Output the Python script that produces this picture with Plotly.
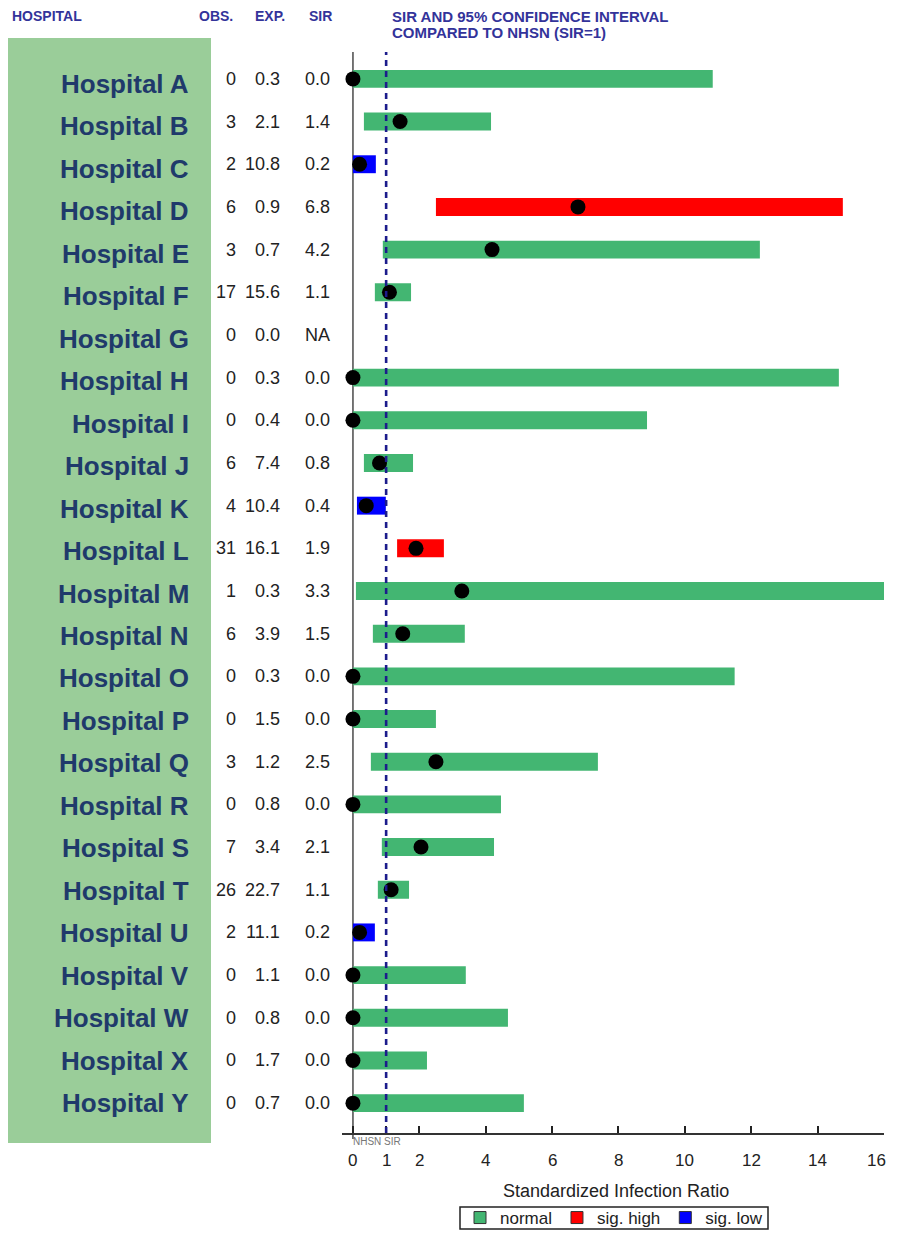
import plotly.graph_objects as go

# ---------------- data ----------------
hospitals = ["Hospital A", "Hospital B", "Hospital C", "Hospital D", "Hospital E",
             "Hospital F", "Hospital G", "Hospital H", "Hospital I", "Hospital J",
             "Hospital K", "Hospital L", "Hospital M", "Hospital N", "Hospital O",
             "Hospital P", "Hospital Q", "Hospital R", "Hospital S", "Hospital T",
             "Hospital U", "Hospital V", "Hospital W", "Hospital X", "Hospital Y"]
obs = ["0", "3", "2", "6", "3", "17", "0", "0", "0", "6", "4", "31", "1", "6", "0",
       "0", "3", "0", "7", "26", "2", "0", "0", "0", "0"]
exp_ = ["0.3", "2.1", "10.8", "0.9", "0.7", "15.6", "0.0", "0.3", "0.4", "7.4", "10.4",
        "16.1", "0.3", "3.9", "0.3", "1.5", "1.2", "0.8", "3.4", "22.7", "11.1", "1.1",
        "0.8", "1.7", "0.7"]
sir_text = ["0.0", "1.4", "0.2", "6.8", "4.2", "1.1", "NA", "0.0", "0.0", "0.8", "0.4",
            "1.9", "3.3", "1.5", "0.0", "0.0", "2.5", "0.0", "2.1", "1.1", "0.2", "0.0",
            "0.0", "0.0", "0.0"]
sir = [0.0, 1.42, 0.2, 6.78, 4.19, 1.1, None, 0.0, 0.0, 0.8, 0.4, 1.9, 3.28, 1.5, 0.0,
       0.0, 2.5, 0.0, 2.05, 1.15, 0.2, 0.0, 0.0, 0.0, 0.0]
ci_low = [0.0, 0.33, 0.0, 2.5, 0.9, 0.66, None, 0.0, 0.0, 0.33, 0.12, 1.33, 0.09, 0.6,
          0.0, 0.0, 0.54, 0.0, 0.87, 0.75, 0.0, 0.0, 0.0, 0.0, 0.0]
ci_high = [10.84, 4.16, 0.69, 14.76, 12.26, 1.75, None, 14.64, 8.86, 1.81, 0.99, 2.74,
           16.05, 3.37, 11.5, 2.5, 7.38, 4.46, 4.25, 1.69, 0.66, 3.4, 4.67, 2.23, 5.15]
status = ["normal", "normal", "sig. low", "sig. high", "normal", "normal", "none",
          "normal", "normal", "normal", "sig. low", "sig. high", "normal", "normal",
          "normal", "normal", "normal", "normal", "normal", "normal", "sig. low",
          "normal", "normal", "normal", "normal"]
status_names = ["normal", "sig. high", "sig. low"]
status_colors = {"normal": "#43B672", "sig. high": "#FF0000", "sig. low": "#0000FF"}
x_ticks = [0, 1, 2, 4, 6, 8, 10, 12, 14, 16]
x_ticklabels = ["0", "1", "2", "4", "6", "8", "10", "12", "14", "16"]
col_headers = ["HOSPITAL", "OBS.", "EXP.", "SIR"]
chart_header = ["SIR AND 95% CONFIDENCE INTERVAL", "COMPARED TO NHSN (SIR=1)"]

# ---------------- layout geometry (page px -> figure) ----------------
OFF = 8                      # browser body margin
W, H = 881, 1223
ML, MR, MT, MB = 334, 5, 44, 98
PW, PH = W - ML - MR, H - MT - MB


def fx(p):
    return (p - OFF - ML) / PW


def fy(p):
    return (H - MB - (p - OFF)) / PH


idx = list(range(len(hospitals)))
n = len(hospitals)
fig = go.Figure()

# CI bars by status
for s in status_names:
    ys, bases, lens = [], [], []
    for i in idx:
        if status[i] == s:
            ys.append(i)
            bases.append(ci_low[i])
            lens.append(ci_high[i] - ci_low[i])
    fig.add_trace(go.Bar(y=ys, x=lens, base=bases, orientation="h", width=0.42,
                         marker=dict(color=status_colors[s], line=dict(width=0)),
                         showlegend=False, hoverinfo="skip"))

# SIR points
fig.add_trace(go.Scatter(x=[sir[i] for i in idx if sir[i] is not None],
                         y=[i for i in idx if sir[i] is not None],
                         mode="markers", marker=dict(color="black", size=15),
                         showlegend=False, hoverinfo="skip", cliponaxis=False))

# legend entries
for s in status_names:
    fig.add_trace(go.Scatter(x=[None], y=[None], mode="markers", name=s,
                             marker=dict(symbol="square", size=12, color=status_colors[s],
                                         line=dict(color="#333333", width=1))))

LEG_TOP, LEG_BOT = 1207, 1229
shapes = [
    # green label panel
    dict(type="rect", xref="paper", yref="paper", x0=fx(0), x1=fx(211), y0=fy(1143), y1=fy(38),
         fillcolor="#9ACD99", line=dict(width=0), layer="below"),
    # zero line
    dict(type="line", xref="x", yref="paper", x0=0, x1=0, y0=fy(1139), y1=1,
         line=dict(color="#555555", width=1.6), layer="below"),
    # NHSN SIR = 1 line
    dict(type="line", xref="x", yref="paper", x0=1, x1=1, y0=0, y1=1,
         line=dict(color="#1C1C8C", width=2.6, dash="6px,5px"), layer="above"),
    # legend frame
    dict(type="rect", xref="paper", yref="paper", x0=fx(460), x1=fx(768),
         y0=fy(LEG_BOT), y1=fy(LEG_TOP), line=dict(color="#222222", width=1.5),
         fillcolor="rgba(0,0,0,0)"),
]

annotations = []
font_fam = "Liberation Sans, Arial, sans-serif"
hdr_color = "#33339A"
for txt, x in zip(col_headers, [12, 199, 255, 309]):
    annotations.append(dict(text="<b>" + txt + "</b>", xref="paper", yref="paper", x=fx(x),
                            y=fy(OFF + 0.5), xanchor="left", yanchor="top", showarrow=False,
                            borderpad=0, borderwidth=0,
                            font=dict(family=font_fam, size=14, color=hdr_color)))
annotations.append(dict(text="<b>" + chart_header[0] + "</b>", xref="paper", yref="paper",
                        x=fx(392), y=fy(OFF + 0.5), xanchor="left", yanchor="top",
                        showarrow=False, borderpad=0, borderwidth=0,
                        font=dict(family=font_fam, size=15, color=hdr_color)))
annotations.append(dict(text="<b>" + chart_header[1] + "</b>", xref="paper", yref="paper",
                        x=fx(392), y=fy(33), xanchor="left", yanchor="middle",
                        showarrow=False, borderpad=0, borderwidth=0,
                        font=dict(family=font_fam, size=15, color=hdr_color)))

for i in idx:
    annotations.append(dict(text="<b>" + hospitals[i] + "</b>", xref="paper", yref="y",
                            x=fx(191), y=i, yshift=-5 * (1 - i / (n - 1)),
                            xanchor="right", yanchor="middle", showarrow=False,
                            font=dict(family=font_fam, size=26, color="#1F3A6B")))
    for txt, xr in [(obs[i], 238), (exp_[i], 282), (sir_text[i], 332)]:
        annotations.append(dict(text=txt, xref="paper", yref="y", x=fx(xr), y=i,
                                xanchor="right", yanchor="middle", showarrow=False,
                                font=dict(family=font_fam, size=18, color="#222222")))

# x tick labels, placed on the axis scale (last one kept inside the page)
for t, lab in zip(x_ticks, x_ticklabels):
    last = t == x_ticks[-1]
    annotations.append(dict(text=lab, xref="x", yref="paper", x=t, y=fy(1160),
                            xanchor="right" if last else "center", yanchor="middle",
                            xshift=4 if last else 0, showarrow=False,
                            font=dict(family=font_fam, size=17, color="#222222")))

annotations.append(dict(text="NHSN SIR", xref="paper", yref="paper", x=fx(351), y=fy(1141),
                        xanchor="left", yanchor="middle", showarrow=False,
                        font=dict(family=font_fam, size=10, color="#777777")))
annotations.append(dict(text="Standardized Infection Ratio", xref="paper", yref="paper",
                        x=fx(616), y=fy(1191), xanchor="center", yanchor="middle",
                        showarrow=False, font=dict(family=font_fam, size=18, color="#222222")))

fig.update_layout(
    width=W, height=H, margin=dict(l=ML, r=MR, t=MT, b=MB, pad=0, autoexpand=False),
    plot_bgcolor="white", paper_bgcolor="white", barmode="overlay",
    shapes=shapes, annotations=annotations,
    font=dict(family=font_fam),
    legend=dict(orientation="h", x=fx(614), y=fy((LEG_TOP + LEG_BOT) / 2),
                xanchor="center", yanchor="middle",
                borderwidth=0, bgcolor="rgba(0,0,0,0)",
                font=dict(family=font_fam, size=17, color="#222222"),
                itemwidth=30, tracegroupgap=0),
)
fig.update_xaxes(range=[-0.33, 16.0], tickvals=x_ticks, showticklabels=False,
                 showgrid=False, zeroline=False, showline=True, linecolor="#333333",
                 linewidth=1.5, ticks="inside", ticklen=7, tickwidth=2, tickcolor="#222222",
                 automargin=False)
fig.update_yaxes(range=[n - 0.3, -0.63], showgrid=False, zeroline=False, showline=False,
                 showticklabels=False, ticks="", automargin=False)

fig.write_html("out.html")
